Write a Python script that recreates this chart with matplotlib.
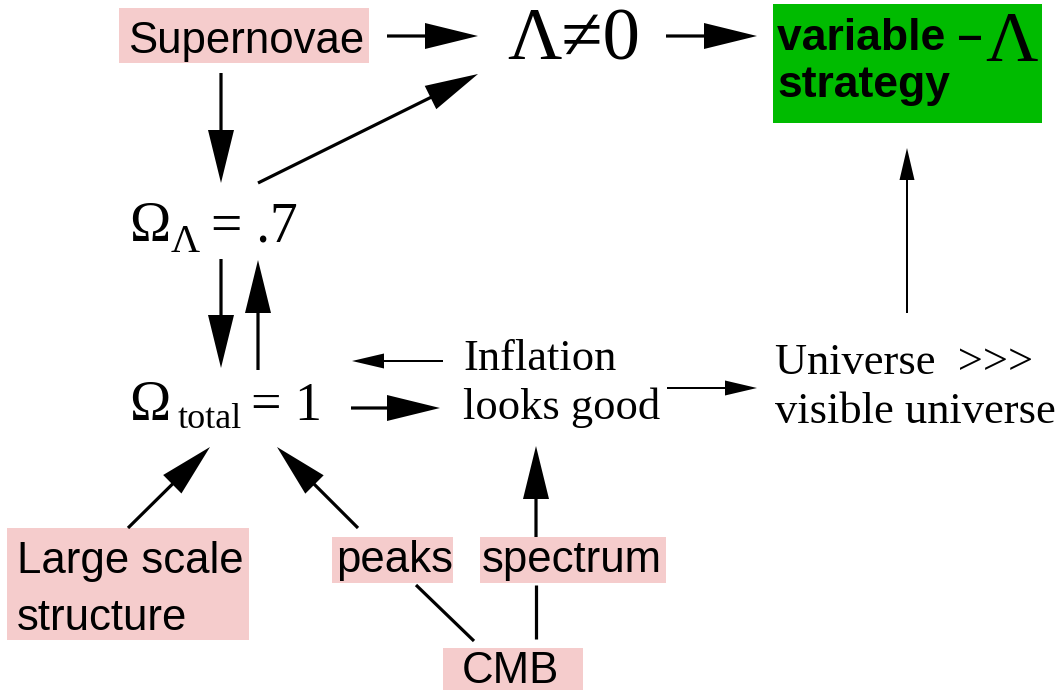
import matplotlib
matplotlib.use('Agg')
import matplotlib.pyplot as plt
from matplotlib.patches import Rectangle

# labels
pink_labels  = ['Supernovae', 'Large scale\nstructure', 'peaks', 'spectrum', 'CMB']
green_label  = ['variable \u2013', 'strategy']
plain_labels = ['Inflation\nlooks good', 'Universe  >>>\nvisible universe']

# layout (pixel coordinates, y down)
pink_boxes = [(119, 8, 369, 63), (7, 528, 249, 640), (332, 537, 453, 583),
              (480, 537, 666, 583), (443, 648, 583, 692)]
pink_text  = [(128, 53), (17, 573), (336, 572), (482, 572), (462, 683)]
green_box  = (773, 4, 1042, 123)
plain_text = [(463, 370), (775, 374)]

thick_arrows = [((387, 36), (478, 36)),
                ((666, 36), (757, 36)),
                ((221, 73), (221, 183)),
                ((258, 183), (478, 74)),
                ((221, 259), (221, 368)),
                ((258, 370), (258, 260)),
                ((351, 408), (440, 408)),
                ((128, 528), (210, 447)),
                ((358, 528), (277, 447)),
                ((536, 537), (536, 446))]
thin_arrows  = [((443, 361), (352, 361)),
                ((667, 388), (757, 388)),
                ((907, 313), (907, 148))]
links        = [((416, 585), (474, 641)),
                ((536, 639), (536, 585))]

pink  = '#f5cccc'
green = '#00bb00'
sans  = ['Liberation Sans', 'DejaVu Sans']
serif = ['Liberation Serif', 'DejaVu Serif']

fig = plt.figure(figsize=(10.63, 6.90), dpi=100)
ax = fig.add_axes([0, 0, 1, 1])
ax.set_xlim(0, 1063)
ax.set_ylim(690, 0)
ax.axis('off')

for (x0, y0, x1, y1), (tx, ty), lab in zip(pink_boxes, pink_text, pink_labels):
    ax.add_patch(Rectangle((x0, y0), x1 - x0, y1 - y0, color=pink, lw=0, zorder=1))
    for i, line in enumerate(lab.split('\n')):
        ax.text(tx, ty + i * 57, line, family=sans, fontsize=31.5,
                ha='left', va='baseline', zorder=2)

x0, y0, x1, y1 = green_box
ax.add_patch(Rectangle((x0, y0), x1 - x0, y1 - y0, color=green, lw=0, zorder=1))
ax.text(777, 50, green_label[0], family=sans, fontsize=32, weight='bold',
        ha='left', va='baseline', zorder=2)
ax.text(777, 97, green_label[1], family=sans, fontsize=32, weight='bold',
        ha='left', va='baseline', zorder=2)
ax.text(985, 61, '\u039b', family=serif, fontsize=52, ha='left', va='baseline', zorder=2)

# serif formulas
ax.text(507, 59, '\u039b\u22600', family=serif, fontsize=54, ha='left', va='baseline')
ax.text(129, 241, '\u03a9', family=serif, fontsize=40, ha='left', va='baseline')
ax.text(171, 252, '\u039b', family=serif, fontsize=29, ha='left', va='baseline')
ax.text(211, 241, '= .7', family=serif, fontsize=40, ha='left', va='baseline')
ax.text(129, 420, '\u03a9', family=serif, fontsize=40, ha='left', va='baseline')
ax.text(178, 428, 'total', family=serif, fontsize=26, ha='left', va='baseline')
ax.text(251, 420, '= 1', family=serif, fontsize=39, ha='left', va='baseline')

for (tx, ty), lab in zip(plain_text, plain_labels):
    for i, line in enumerate(lab.split('\n')):
        ax.text(tx, ty + i * 49, line, family=serif, fontsize=32,
                ha='left', va='baseline')

for (xa, ya), (xb, yb) in thick_arrows:
    ax.arrow(xa, ya, xb - xa, yb - ya, width=3.2, head_width=26, head_length=53,
             length_includes_head=True, color='black', lw=0)
for (xa, ya), (xb, yb) in thin_arrows:
    ax.arrow(xa, ya, xb - xa, yb - ya, width=2, head_width=15, head_length=32,
             length_includes_head=True, color='black', lw=0)
for (xa, ya), (xb, yb) in links:
    ax.plot([xa, xb], [ya, yb], color='black', lw=2.3, solid_capstyle='butt')

fig.savefig('out.png', dpi=100)
